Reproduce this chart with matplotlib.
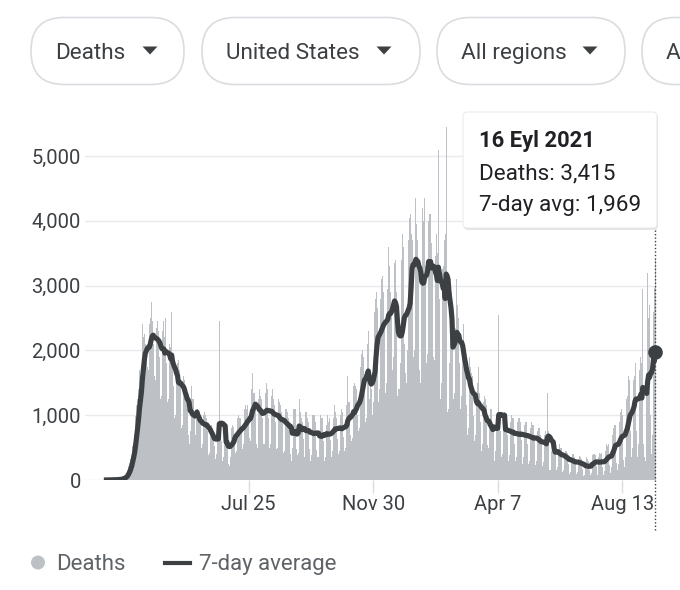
import pandas as pd
import matplotlib
matplotlib.use("Agg")
import matplotlib.pyplot as plt
import matplotlib.dates as mdates
from matplotlib.patches import FancyBboxPatch, Polygon, Circle

plt.rcParams['font.family'] = ['Roboto', 'DejaVu Sans']

# daily US deaths, one row per week (Sun..Sat), starting 1 Mar 2020
start_date = "2020-03-01"
deaths = [
    1, 1, 2, 4, 3, 5, 5,
    4, 4, 8, 6, 7, 10, 12,
    12, 18, 25, 38, 45, 60, 55,
    110, 150, 210, 260, 330, 390, 525,
    560, 700, 980, 1150, 1250, 1400, 1700,
    1500, 1550, 2400, 2200, 2250, 2100, 1950,
    1750, 1700, 2400, 2500, 2750, 2450, 2100,
    1600, 1550, 2350, 2450, 2650, 2300, 1900,
    1250, 1300, 2300, 2450, 2200, 2500, 1800,
    1200, 1250, 2100, 2050, 2600, 1800, 1450,
    950, 1000, 1700, 1800, 1850, 1700, 1500,
    800, 850, 1600, 1550, 1450, 1400, 1100,
    700, 550, 750, 1450, 1250, 1250, 1050,
    600, 700, 1050, 1100, 1050, 950, 920,
    500, 550, 1000, 1050, 1000, 950, 760,
    380, 420, 800, 850, 800, 700, 530,
    330, 400, 820, 850, 2450, 700, 600,
    300, 350, 700, 750, 700, 650, 250,
    220, 350, 800, 850, 850, 820, 650,
    420, 450, 950, 1000, 950, 950, 800,
    480, 550, 1100, 1150, 1100, 1150, 900,
    650, 600, 1400, 1650, 1350, 1350, 1200,
    550, 500, 1250, 1400, 1300, 1250, 950,
    550, 550, 1350, 1500, 1400, 1200, 950,
    500, 550, 1300, 1400, 1250, 1150, 900,
    480, 500, 1250, 1200, 1150, 1050, 890,
    420, 450, 1100, 1100, 1050, 950, 750,
    400, 300, 500, 1100, 1100, 1100, 480,
    380, 420, 1250, 1050, 950, 900, 630,
    350, 400, 1050, 1050, 950, 900, 480,
    300, 380, 1000, 1000, 1000, 900, 460,
    350, 350, 700, 1000, 950, 950, 600,
    300, 350, 850, 1000, 900, 950, 620,
    350, 450, 950, 1150, 1050, 950, 630,
    400, 450, 1000, 1100, 1000, 1050, 670,
    450, 500, 1150, 1600, 1200, 1200, 690,
    600, 650, 1450, 1500, 1450, 1400, 1000,
    750, 800, 1750, 1950, 2000, 1900, 1630,
    900, 950, 2100, 2300, 1250, 1450, 1410,
    1000, 1200, 2600, 2800, 2900, 2650, 2250,
    1200, 1400, 2800, 3100, 3150, 2900, 2390,
    1350, 1500, 2950, 3600, 3300, 2900, 2600,
    1700, 1900, 3350, 3400, 2900, 1300, 1400,
    1400, 1800, 3400, 3800, 3600, 2100, 1650,
    1500, 2000, 3700, 4050, 4100, 3800, 3700,
    1900, 2000, 4000, 4350, 3950, 3700, 3200,
    1700, 1500, 3000, 4200, 4000, 4350, 3300,
    1800, 1950, 4000, 4100, 4100, 3650, 3400,
    1900, 1850, 3450, 3800, 3500, 5100, 2800,
    1250, 1500, 3250, 3300, 3700, 3800, 5450,
    1050, 1100, 1800, 2500, 2900, 2600, 2400,
    1250, 1350, 2350, 3100, 2700, 2500, 1800,
    1100, 1300, 2000, 2400, 2000, 1950, 1150,
    700, 800, 1900, 1750, 1650, 1600, 980,
    600, 700, 1250, 1500, 1750, 1350, 900,
    450, 550, 1200, 1300, 1250, 1150, 540,
    400, 500, 900, 1100, 1100, 900, 840,
    300, 450, 950, 1050, 2550, 950, 750,
    350, 400, 950, 1050, 1000, 950, 690,
    300, 380, 900, 1000, 950, 950, 560,
    300, 350, 900, 950, 950, 900, 620,
    250, 350, 850, 950, 900, 900, 560,
    250, 300, 800, 900, 850, 850, 600,
    230, 300, 750, 800, 800, 700, 550,
    220, 280, 700, 750, 700, 1350, 760,
    150, 150, 450, 650, 600, 600, 410,
    150, 200, 450, 550, 500, 500, 380,
    120, 150, 400, 450, 450, 420, 250,
    90, 130, 350, 400, 400, 350, 240,
    90, 120, 320, 370, 350, 330, 170,
    60, 70, 200, 350, 330, 300, 160,
    70, 110, 380, 400, 400, 390, 210,
    70, 100, 350, 420, 400, 420, 200,
    80, 140, 450, 550, 520, 550, 230,
    110, 200, 700, 800, 850, 850, 270,
    150, 250, 900, 1050, 1100, 1000, 310,
    200, 350, 1250, 1300, 1600, 1550, 750,
    350, 500, 1550, 1600, 2200, 1800, 750,
    350, 550, 1700, 1900, 1800, 2950, 550,
    350, 300, 1500, 3200, 2500, 2700, 1000,
    400, 700, 2600, 2968, 3415,
]

tick_dates = ["2020-07-25", "2020-11-30", "2021-04-07", "2021-08-13"]
tick_labels = ["Jul 25", "Nov 30", "Apr 7", "Aug 13"]
y_ticks = [0, 1000, 2000, 3000, 4000, 5000]
filter_labels = ["Deaths", "United States", "All regions", "A"]
tip_date = "16 Eyl 2021"
legend_labels = ["Deaths", "7-day average"]

bar_color = "#bdc1c6"
line_color = "#3c4043"

dates = pd.date_range(start_date, periods=len(deaths), freq="D")
avg7 = pd.Series(deaths).rolling(7, min_periods=1).mean()

fig = plt.figure(figsize=(6.8, 5.9), dpi=100)
ax = fig.add_axes([85 / 680, 110 / 590, 572 / 680, 365 / 590])

x = mdates.date2num(dates)
ax.bar(x, deaths, width=1.0, color=bar_color, linewidth=0, zorder=2)
ax.plot(x, avg7, color=line_color, lw=3.7, solid_joinstyle="round", zorder=3)
ax.plot(x[-1], avg7.iloc[-1], "o", ms=9.5, color=line_color, zorder=4, clip_on=False)

ax.set_xlim(x[0] - 22.0, x[0] + 565.6)
ax.set_ylim(0, 5633)
ax.set_yticks(y_ticks)
ax.set_yticklabels([f"{v:,}" for v in y_ticks])
ax.set_xticks(mdates.date2num(pd.to_datetime(tick_dates)))
ax.set_xticklabels(tick_labels)
ax.yaxis.grid(True, color="#e8eaed", lw=1.0)
ax.set_axisbelow(True)
for s in ax.spines.values():
    s.set_visible(False)
ax.tick_params(axis="x", length=9.5, width=1.0, color="#dadce0", pad=1.5,
               labelsize=14.5, labelcolor="#3c4043")
ax.tick_params(axis="y", length=0, pad=3, labelsize=14.5, labelcolor="#3c4043")

# hover line
ax.axvline(x[-1], ymin=-50 / 365, ymax=(480 - 228) / 365, clip_on=False,
           color=line_color, lw=1.0, ls=(0, (1, 1.5)), zorder=5)

# overlay in pixel coords for the chrome
ov = fig.add_axes([0, 0, 1, 1], zorder=10)
ov.set_xlim(0, 680)
ov.set_ylim(590, 0)
ov.axis("off")
ov.patch.set_alpha(0)

pills = [(31, 184, 55.5, 150), (202, 420, 225.5, 384), (437, 625, 461, 590), (642, 780, 666, None)]
for (x0, x1, tx, tri), lab in zip(pills, filter_labels):
    ov.add_patch(FancyBboxPatch((x0, 17.5), x1 - x0, 67, boxstyle="round,pad=0,rounding_size=33",
                                fc="white", ec="#dadce0", lw=1.2, clip_on=False))
    ov.text(tx, 59.3, lab, fontsize=16.2, color="#3c4043", va="baseline", ha="left")
    if tri:
        ov.add_patch(Polygon([(tri - 7.5, 46.5), (tri + 7.5, 46.5), (tri, 54.5)],
                             closed=True, fc="#3c4043", ec="none"))

# tooltip
ov.add_patch(FancyBboxPatch((464, 114), 194, 116, boxstyle="round,pad=0,rounding_size=4",
                            fc="black", ec="none", alpha=0.10))
ov.add_patch(FancyBboxPatch((463, 112), 194, 116, boxstyle="round,pad=0,rounding_size=4",
                            fc="white", ec="#e6e6e6", lw=0.6))
ov.text(479, 147.3, tip_date, fontsize=15.8, fontweight="bold", color="#202124", va="baseline")
ov.text(479, 179.3, f"Deaths: {deaths[-1]:,}", fontsize=16.2, color="#202124", va="baseline")
ov.text(479, 210.5, f"7-day avg: {round(avg7.iloc[-1]):,}", fontsize=16.2, color="#202124",
        va="baseline")

# legend
ov.add_patch(Circle((38, 562.5), 7, fc=bar_color, ec="none"))
ov.text(56, 570, legend_labels[0], fontsize=16, color="#5f6368", va="baseline")
ov.plot([165, 190], [562.5, 562.5], color=line_color, lw=3)
ov.text(199, 570, legend_labels[1], fontsize=16, color="#5f6368", va="baseline")

fig.savefig("out.png", dpi=100)
